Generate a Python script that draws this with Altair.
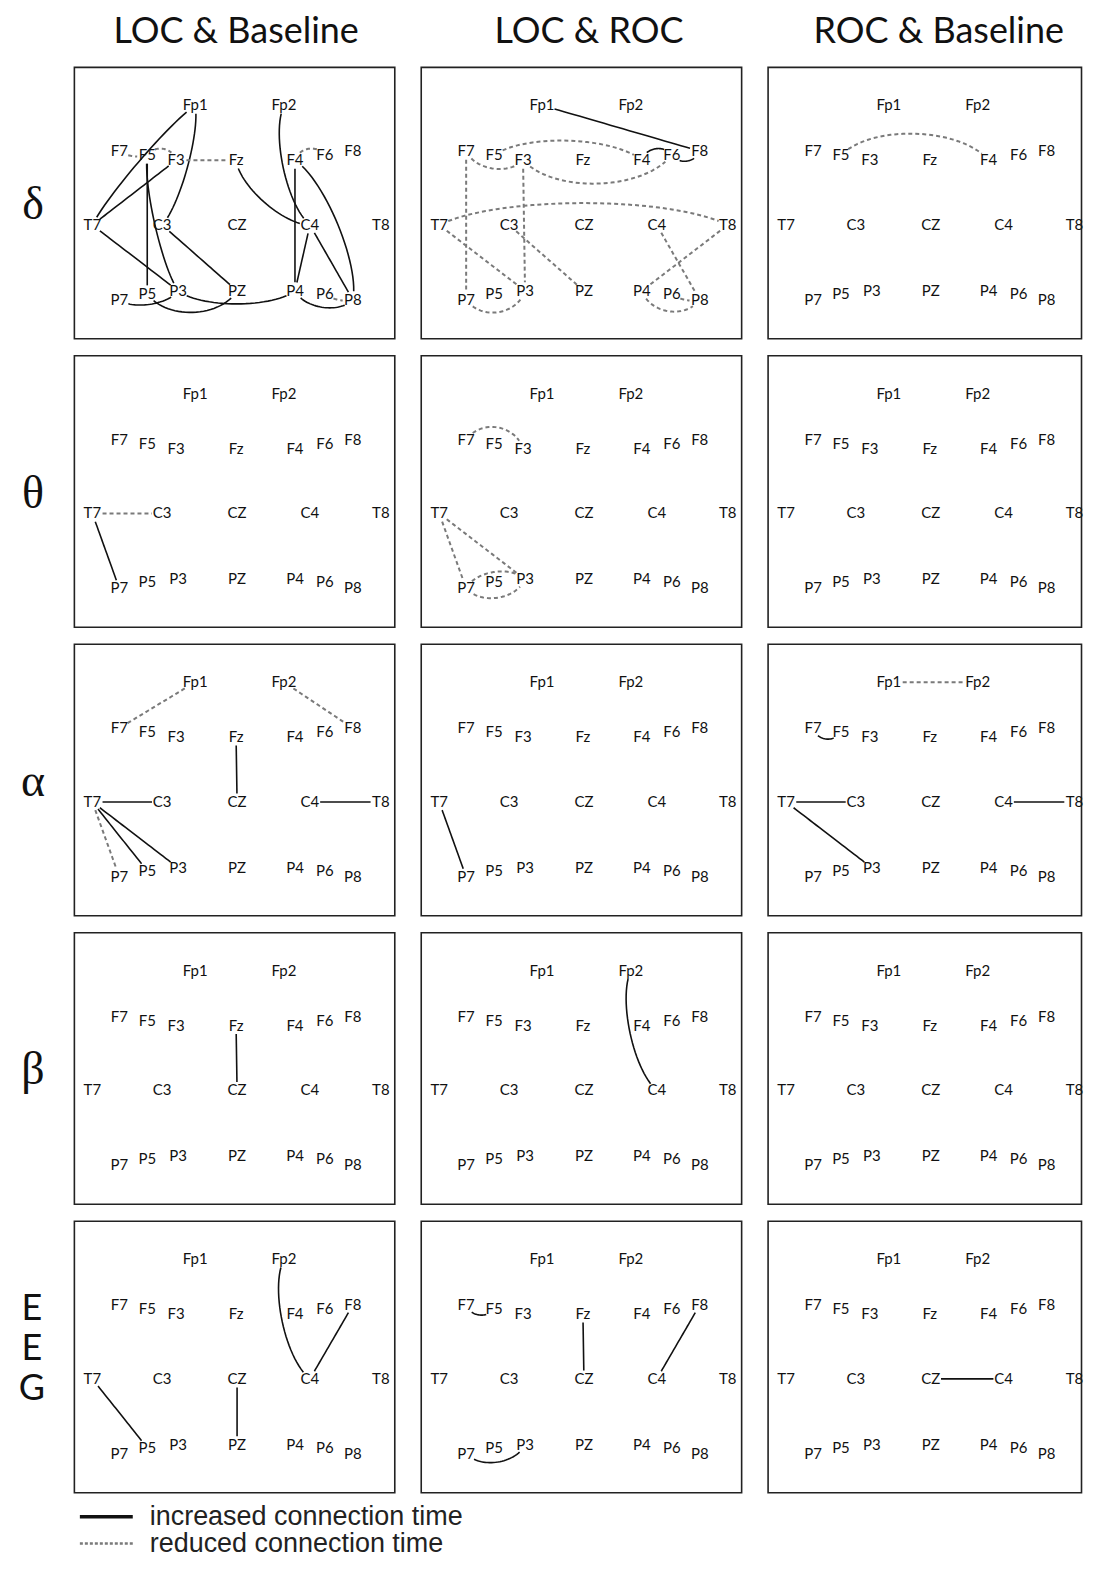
import math
import altair as alt
import pandas as pd

# ---------------- data ----------------
ROW_LABELS = ["δ", "θ", "α", "β", "EEG"]
COL_LABELS = ["LOC & Baseline", "LOC & ROC", "ROC & Baseline"]

ELECTRODES = ["Fp1", "Fp2", "F7", "F5", "F3", "Fz", "F4", "F6", "F8",
              "T7", "C3", "CZ", "C4", "T8",
              "P7", "P5", "P3", "PZ", "P4", "P6", "P8"]
EL_X = [121, 210, 45, 73, 102, 162, 221, 251, 279,
        18, 88, 163, 236, 307,
        45, 73, 104, 163, 221, 251, 279]
EL_Y = [38, 38, 84, 88, 93, 93, 93, 88, 84,
        158, 158, 158, 158, 158,
        233, 227, 224, 224, 224, 227, 233]

KINDS = ["increased", "reduced"]
LEGEND_LABELS = ["increased connection time", "reduced connection time"]
INC, RED = KINDS

# (row, column, electrode A, electrode B, kind, bend of the connection)
EDGES = [
    # delta - LOC & Baseline
    (0, 0, "T7", "Fp1", INC, 6), (0, 0, "T7", "F3", INC, 0), (0, 0, "T7", "P3", INC, 0),
    (0, 0, "Fp1", "C3", INC, 9), (0, 0, "F5", "P5", INC, 0), (0, 0, "F5", "P3", INC, -8),
    (0, 0, "F7", "F5", RED, -3), (0, 0, "F5", "F3", RED, 9), (0, 0, "F3", "Fz", RED, 0),
    (0, 0, "Fz", "C4", INC, -13), (0, 0, "Fp2", "C4", INC, -14), (0, 0, "F4", "F6", RED, 9),
    (0, 0, "F4", "P4", INC, 0), (0, 0, "F4", "P8", INC, 15), (0, 0, "C4", "P4", INC, 0),
    (0, 0, "C4", "P8", INC, 0), (0, 0, "P4", "P8", INC, -12), (0, 0, "P6", "P8", RED, -3),
    (0, 0, "P7", "P3", INC, -9), (0, 0, "P5", "PZ", INC, -20), (0, 0, "P3", "P4", INC, -13),
    (0, 0, "C3", "PZ", INC, 0),
    # delta - LOC & ROC
    (0, 1, "Fp1", "F8", INC, 0), (0, 1, "F4", "F6", INC, 9), (0, 1, "F6", "F8", INC, -8),
    (0, 1, "F7", "F3", RED, -13), (0, 1, "F5", "F4", RED, 17), (0, 1, "F3", "F6", RED, -26),
    (0, 1, "F7", "P7", RED, 0), (0, 1, "F3", "P3", RED, 0), (0, 1, "T7", "T8", RED, 22),
    (0, 1, "T7", "P3", RED, 0), (0, 1, "C3", "PZ", RED, 0), (0, 1, "P7", "P3", RED, -17),
    (0, 1, "C4", "P8", RED, 0), (0, 1, "T8", "P4", RED, 0), (0, 1, "P4", "P8", RED, -16),
    (0, 1, "P6", "P8", RED, -3),
    # delta - ROC & Baseline
    (0, 2, "F5", "F4", RED, 24),
    # theta
    (1, 0, "T7", "C3", RED, 0), (1, 0, "T7", "P7", INC, 0),
    (1, 1, "F7", "F3", RED, 17), (1, 1, "T7", "P7", RED, 0), (1, 1, "T7", "P3", RED, 0),
    (1, 1, "P7", "P3", RED, 12), (1, 1, "P7", "P3", RED, -14),
    # alpha
    (2, 0, "F7", "Fp1", RED, 0), (2, 0, "Fp2", "F8", RED, 0), (2, 0, "Fz", "CZ", INC, 0),
    (2, 0, "T7", "C3", INC, 0), (2, 0, "C4", "T8", INC, 0), (2, 0, "T7", "P7", RED, 0),
    (2, 0, "T7", "P5", INC, 0), (2, 0, "T7", "P3", INC, 0),
    (2, 1, "T7", "P7", INC, 0),
    (2, 2, "Fp1", "Fp2", RED, 0), (2, 2, "F7", "F5", INC, -9), (2, 2, "T7", "C3", INC, 0),
    (2, 2, "T7", "P3", INC, 0), (2, 2, "C4", "T8", INC, 0),
    # beta
    (3, 0, "Fz", "CZ", INC, 0),
    (3, 1, "Fp2", "C4", INC, -14),
    # EEG
    (4, 0, "Fp2", "C4", INC, -15), (4, 0, "F8", "C4", INC, 0), (4, 0, "T7", "P5", INC, 0),
    (4, 0, "CZ", "PZ", INC, 0),
    (4, 1, "F7", "F5", INC, -8), (4, 1, "Fz", "CZ", INC, 0), (4, 1, "F8", "C4", INC, 0),
    (4, 1, "P7", "P3", INC, -13),
    (4, 2, "CZ", "C4", INC, 0),
]

# ---------------- layout constants ----------------
PANEL_W = 321
LAST_W = 314
PANEL_H = 272
LABEL_W = 39.5
GAP = 26.5
TITLE_X = [162, 168, 171]

pos = {n: (x, y) for n, x, y in zip(ELECTRODES, EL_X, EL_Y)}


def inside(name, c, p):
    rx = 3.6 * len(name) + 3.0
    ry = 8.5
    return ((p[0] - c[0]) / rx) ** 2 + ((p[1] - c[1]) / ry) ** 2 < 1.0


def cubic(p0, p1, p2, p3, t):
    m = 1.0 - t
    a, b, c, d = m ** 3, 3 * m * m * t, 3 * m * t * t, t ** 3
    return (a * p0[0] + b * p1[0] + c * p2[0] + d * p3[0],
            a * p0[1] + b * p1[1] + c * p2[1] + d * p3[1])


recs = []
for k, (r, c, a, b, kind, bend) in enumerate(EDGES):
    A = pos[a]
    B = pos[b]
    dx, dy = B[0] - A[0], B[1] - A[1]
    L = math.hypot(dx, dy)
    nx, ny = dy / L, -dx / L
    kk = bend * 4.0 / 3.0
    P1 = (A[0] + 0.2 * dx + nx * kk, A[1] + 0.2 * dy + ny * kk)
    P2 = (B[0] - 0.2 * dx + nx * kk, B[1] - 0.2 * dy + ny * kk)
    t0 = 0.0
    while t0 < 0.5 and inside(a, A, cubic(A, P1, P2, B, t0)):
        t0 += 0.002
    t1 = 1.0
    while t1 > 0.5 and inside(b, B, cubic(A, P1, P2, B, t1)):
        t1 -= 0.002
    n = 24
    for s in range(n + 1):
        t = t0 + (t1 - t0) * s / n
        px, py = cubic(A, P1, P2, B, t)
        recs.append({"panel": f"{r}-{c}", "edge": k, "seq": s,
                     "x": px, "y": py, "kind": kind})
edge_df = pd.DataFrame(recs)
el_df = pd.DataFrame({"name": ELECTRODES, "x": EL_X, "y": EL_Y})


def panel(r, c):
    w = LAST_W if c == 2 else PANEL_W
    xs = alt.Scale(domain=[0, w], nice=False, zero=False)
    ys = alt.Scale(domain=[0, PANEL_H], reverse=True, nice=False, zero=False)
    key = f"{r}-{c}"
    enc = dict(
        x=alt.X("x:Q", scale=xs, axis=None),
        y=alt.Y("y:Q", scale=ys, axis=None),
        detail="edge:N",
        order="seq:Q",
    )
    base = alt.Chart(edge_df).transform_filter(alt.datum.panel == key)
    solid = base.transform_filter(alt.datum.kind == INC).mark_line(
        interpolate="linear", color="#111111", strokeWidth=1.6
    ).encode(**enc)
    dashed = base.transform_filter(alt.datum.kind == RED).mark_line(
        interpolate="linear", color="#7a7a7a", strokeWidth=2.0, strokeDash=[4, 3]
    ).encode(**enc)
    labels = alt.Chart(el_df).mark_text(
        font="Lato", fontSize=15, color="#111111", baseline="middle"
    ).encode(
        x=alt.X("x:Q", scale=xs, axis=None),
        y=alt.Y("y:Q", scale=ys, axis=None),
        text="name:N",
    )
    layers = [solid, dashed, labels]
    if r == 0:
        tdf = pd.DataFrame({"title": [COL_LABELS[c]]})
        title = alt.Chart(tdf).mark_text(
            font="Lato", fontSize=36, color="#111111", baseline="alphabetic", align="center"
        ).encode(x=alt.value(TITLE_X[c]), y=alt.value(-24), text="title:N")
        layers.append(title)
    ch = alt.layer(*layers).properties(
        width=w, height=PANEL_H,
        view=alt.ViewBackground(stroke="#222222", strokeWidth=1.6),
    )
    return ch


def row_label(r):
    lab = ROW_LABELS[r]
    df = pd.DataFrame({"label": [lab]})
    if len(lab) == 1:
        mk = alt.Chart(df).mark_text(
            font="Liberation Serif", fontSize=46, color="#111111", baseline="middle"
        ).encode(x=alt.value(25), y=alt.value(138), text="label:N")
    else:
        mk = alt.Chart(df).mark_text(
            font="Lato", fontSize=36, lineHeight=40, color="#111111",
            baseline="middle", text=list(lab)
        ).encode(x=alt.value(24), y=alt.value(88))
    return mk.properties(width=LABEL_W, height=PANEL_H)


rows = []
for r in range(len(ROW_LABELS)):
    rows.append(alt.hconcat(row_label(r), *[panel(r, c) for c in range(3)],
                            spacing=GAP, bounds="flush"))
grid = alt.vconcat(*rows, spacing=15)

legend_df = pd.DataFrame({"label": LEGEND_LABELS, "kind": KINDS})
ly = alt.Y("label:N", sort=LEGEND_LABELS, axis=None,
           scale=alt.Scale(type="point", range=[21, 48], padding=0))
lbase = alt.Chart(legend_df)
leg_solid = lbase.transform_filter(alt.datum.kind == INC).mark_rule(
    color="#111111", strokeWidth=3.5
).encode(y=ly, x=alt.value(72), x2=alt.value(125))
leg_dash = lbase.transform_filter(alt.datum.kind == RED).mark_rule(
    color="#7a7a7a", strokeWidth=2.5, strokeDash=[3, 2]
).encode(y=ly, x=alt.value(72), x2=alt.value(125))
leg_text = lbase.mark_text(
    align="left", baseline="middle", font="Liberation Sans", fontSize=27, color="#222222"
).encode(y=ly, x=alt.value(142), text="label:N")
legend = alt.layer(leg_solid, leg_dash, leg_text).properties(width=500, height=46)

chart = alt.vconcat(grid, legend, spacing=2).properties(
    padding={"top": 4, "left": 0, "right": 0, "bottom": 0}
).configure_view(strokeWidth=0)

chart.save("out.html", embed_options={"renderer": "svg", "actions": False})
